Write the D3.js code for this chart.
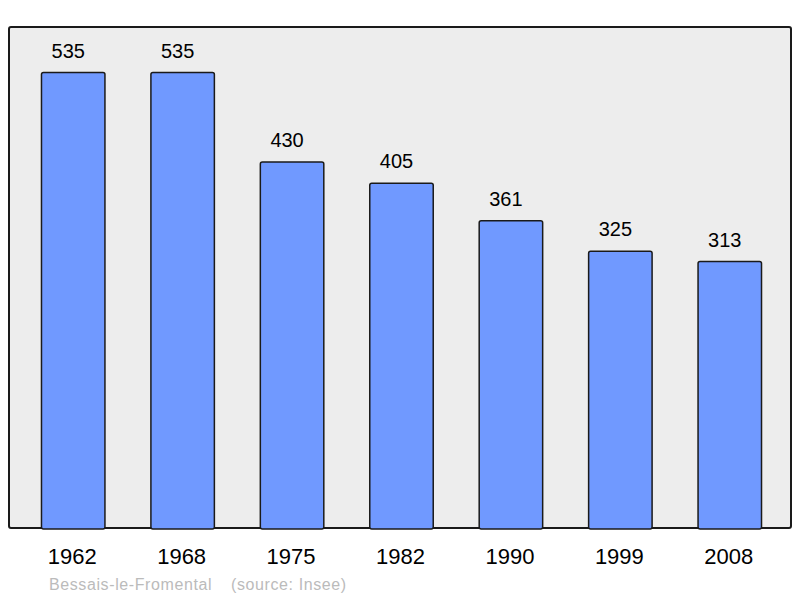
<!DOCTYPE html>
<html>
<head>
<meta charset="utf-8">
<script src="https://cdn.jsdelivr.net/npm/d3@7"></script>
<style>
  body { margin: 0; background: #fff; }
  text { font-family: "Liberation Sans", Arial, sans-serif; }
</style>
</head>
<body>
<div id="chart"></div>
<script>
const years = ["1962", "1968", "1975", "1982", "1990", "1999", "2008"];
const population = [535, 535, 430, 405, 361, 325, 313];
const commune = "Bessais-le-Fromental";
const source = "(source: Insee)";

const W = 800, H = 598;
const panel = { left: 9, top: 27, right: 791, bottom: 528 };

const svg = d3.select("#chart")
  .append("svg")
    .attr("width", W)
    .attr("height", H);

// background panel
svg.append("rect")
  .attr("x", panel.left)
  .attr("y", panel.top)
  .attr("width", panel.right - panel.left)
  .attr("height", panel.bottom - panel.top)
  .attr("rx", 2)
  .attr("fill", "#ededed")
  .attr("stroke", "#1a1a1a")
  .attr("stroke-width", 2);

const x = d3.scaleBand()
  .domain(years)
  .range([18.5, 784.5])
  .paddingInner(0.42)
  .paddingOuter(0.21);

const y = d3.scaleLinear()
  .domain([0, d3.max(population) * 1.1])
  .range([panel.bottom, panel.top]);

const data = years.map((yr, i) => ({ year: yr, value: population[i] }));

// bars
svg.selectAll("rect.bar")
  .data(data)
  .enter()
  .append("rect")
    .attr("class", "bar")
    .attr("x", d => x(d.year))
    .attr("y", d => y(d.value))
    .attr("width", x.bandwidth())
    .attr("height", d => y(0) - y(d.value) + 1)
    .attr("rx", 2)
    .attr("fill", "#7099ff")
    .attr("stroke", "#1a1a1a")
    .attr("stroke-width", 1.5);

// value labels (sit a little left of the bar centre)
svg.selectAll("text.val")
  .data(data)
  .enter()
  .append("text")
    .attr("class", "val")
    .attr("x", d => x(d.year) + x.bandwidth() / 2 - 5)
    .attr("y", d => y(d.value) - 15)
    .attr("text-anchor", "middle")
    .attr("font-size", 20)
    .attr("fill", "#000")
    .text(d => d.value);

// year labels
svg.selectAll("text.year")
  .data(data)
  .enter()
  .append("text")
    .attr("class", "year")
    .attr("x", d => x(d.year) + x.bandwidth() / 2 - 1)
    .attr("y", 564)
    .attr("text-anchor", "middle")
    .attr("font-size", 22)
    .attr("fill", "#000")
    .text(d => d.year);

// footer
svg.append("text")
  .attr("x", 49)
  .attr("y", 590)
  .attr("font-size", 16)
  .attr("letter-spacing", 0.6)
  .attr("fill", "#bbbbbb")
  .text(commune);

svg.append("text")
  .attr("x", 231)
  .attr("y", 590)
  .attr("font-size", 16)
  .attr("letter-spacing", 0.6)
  .attr("fill", "#bbbbbb")
  .text(source);
</script>
</body>
</html>
